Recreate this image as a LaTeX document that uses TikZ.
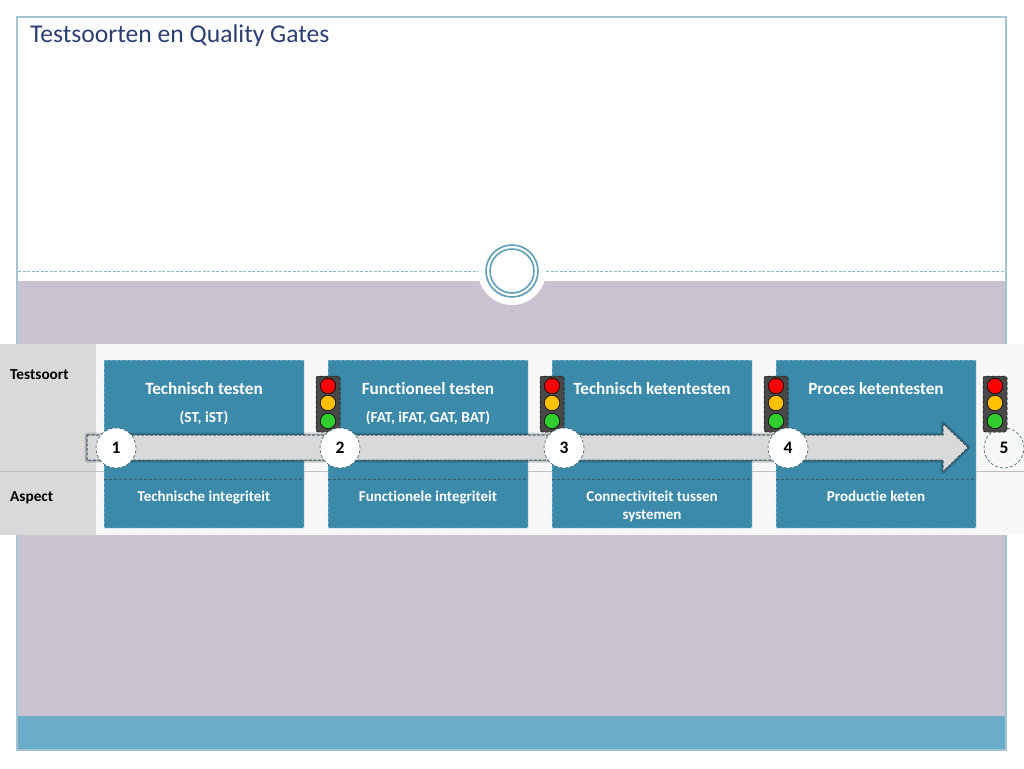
\documentclass[tikz,border=0pt]{standalone}
\usepackage{fontspec}
\setmainfont[Ligatures=NoCommon]{Carlito}
\usetikzlibrary{calc}
\definecolor{lav}{HTML}{C9C3D1}
\definecolor{band}{HTML}{6BADC9}
\definecolor{boxc}{HTML}{3C8AAA}
\definecolor{frame}{HTML}{A3C4D0}
\definecolor{titlec}{HTML}{2B3F73}
\definecolor{ringc}{HTML}{5F9FB5}
\definecolor{dividerc}{HTML}{86BBCB}
\definecolor{tbl}{HTML}{F7F7F7}
\definecolor{lab}{HTML}{D9D9D9}
\definecolor{rule}{HTML}{BDBDBD}
\definecolor{arrowline}{HTML}{3E5C68}
\definecolor{lamp}{HTML}{484848}
\definecolor{amber}{HTML}{FFC000}
\definecolor{go}{HTML}{30CC30}
\tikzset{
  tallbox/.style={draw=white!70!boxc,densely dashed,line width=.5pt,fill=boxc,minimum width=200pt,minimum height=168pt,inner sep=0pt,outer sep=0pt,anchor=north west,rounded corners=.8pt},
  head/.style={text=white,font=\fontsize{17.2}{20}\selectfont\bfseries,inner sep=0pt},
  sub/.style={text=white,font=\fontsize{15.3}{17}\selectfont\bfseries,inner sep=0pt},
  aspect/.style={text=white,font=\fontsize{15}{18}\selectfont\bfseries,inner sep=0pt,align=center,anchor=north},
  rowlab/.style={text=black,font=\fontsize{15.3}{18}\selectfont\bfseries,inner sep=0pt,anchor=west},
  gate/.style={circle,minimum size=40pt,inner sep=0pt,fill=white,draw=arrowline,densely dashed,line width=.6pt,font=\fontsize{17.5}{20}\selectfont\bfseries,text=black},
  housing/.style={draw=black,densely dashed,line width=.5pt,fill=lamp,minimum width=24pt,minimum height=56pt,inner sep=0pt,rounded corners=2.5pt},
  lampc/.style={circle,minimum size=15.5pt,inner sep=0pt,draw=black,line width=.6pt},
  divider/.style={draw=dividerc,dash pattern=on 3pt off 1.5pt,line width=1pt}
}
\newcommand{\trafficlight}[3]{%
  \node[housing] (#3) at (#1,#2) {};
  \node[lampc,fill=red] (#3r) at (#1,#2-18) {};
  \node[lampc,fill=amber] (#3o) at (#1,#2-1) {};
  \node[lampc,fill=go] (#3g) at (#1,#2+17) {};
}
\newcommand{\arrowpath}{($(as)+(0,-12.5)$) -- ($(ae)+(-25,-12.5)$) -- ($(ae)+(-25,-24)$) -- (ae) -- ($(ae)+(-25,24)$) -- ($(ae)+(-25,12.5)$) -- ($(as)+(0,12.5)$) -- cycle}
\begin{document}
\begin{tikzpicture}[x=1pt,y=-1pt]
\useasboundingbox (0,0) rectangle (1024,768);
\fill[white] (0,0) rectangle (1024,768);
% slide
\fill[lav] (17,281) rectangle (1006,716);
\fill[band] (17,716) rectangle (1006,750);
\draw[frame,line width=1.2pt] (17,17) rectangle (1006,750);
\node[anchor=west,inner sep=0pt,text=titlec,font=\fontsize{25.6}{30}\selectfont] (title) at (30,36) {Testsoorten en Quality Gates};
% divider
\coordinate (dl) at (18,271); \coordinate (dr) at (1005,271);
\node[circle,fill=white,minimum size=68pt,inner sep=0pt] (medal) at (512,271) {};
\draw[divider] (dl) -- (medal.west |- dl);
\draw[divider] (medal.east |- dr) -- (dr);
\node[circle,draw=ringc,line width=1.6pt,minimum size=52pt,inner sep=0pt] (ringa) at (512,271) {};
\node[circle,draw=ringc,line width=1.6pt,minimum size=44pt,inner sep=0pt] (ringb) at (512,271) {};
% table
\fill[tbl] (0,344) rectangle (1024,535);
\fill[lab] (0,344) rectangle (96,535);
\draw[rule,line width=.6pt] (0,471) -- (1024,471);
\node[rowlab] (r1) at (10,375) {Testsoort};
\node[rowlab] (r2) at (10,497.5) {Aspect};
% boxes
\foreach \x/\n in {104/a,328/b,552/c,776/d}{
  \node[tallbox] (up\n) at (\x,360) {};
  \draw[arrowline,densely dashed,line width=.5pt] (\x,479) -- ++(200,0);
}
\node[head] (h1) at (204,388.5) {Technisch testen};
\node[head] (h2) at (428,388.5) {Functioneel testen};
\node[head] (h3) at (652,388.5) {Technisch ketentesten};
\node[head] (h4) at (876,388.5) {Proces ketentesten};
\node[sub] (s1) at (204,418) {(ST, iST)};
\node[sub] (s2) at (428,418) {(FAT, iFAT, GAT, BAT)};
\node[aspect] (a1) at (204,490.5) {Technische integriteit};
\node[aspect] (a2) at (428,490.5) {Functionele integriteit};
\node[aspect] (a3) at (652,490.5) {Connectiviteit tussen\\systemen};
\node[aspect] (a4) at (876,490.5) {Productie keten};
% lights behind the gates
\trafficlight{328}{404}{t1}
\trafficlight{552}{404}{t2}
\trafficlight{776}{404}{t3}
% arrow
\coordinate (as) at (87,447.5); \coordinate (ae) at (968,447.5);
\begin{scope}[shift={(1,3)},line join=round]
  \draw[black,opacity=.14,line width=5pt] \arrowpath;
  \draw[black,opacity=.2,line width=2.5pt] \arrowpath;
  \fill[black,opacity=.35] \arrowpath;
\end{scope}
\draw[fill=lab,draw=arrowline,dash pattern=on 3pt off 1.5pt,line width=1pt] \arrowpath;
% gates
\node[gate] (g1) at (116,448) {1};
\node[gate] (g2) at (340,448) {2};
\node[gate] (g3) at (564,448) {3};
\node[gate] (g4) at (788,448) {4};
\node[gate,fill=tbl] (g5) at (1004,448) {5};
\trafficlight{995}{404}{t4}
\end{tikzpicture}
\end{document}
